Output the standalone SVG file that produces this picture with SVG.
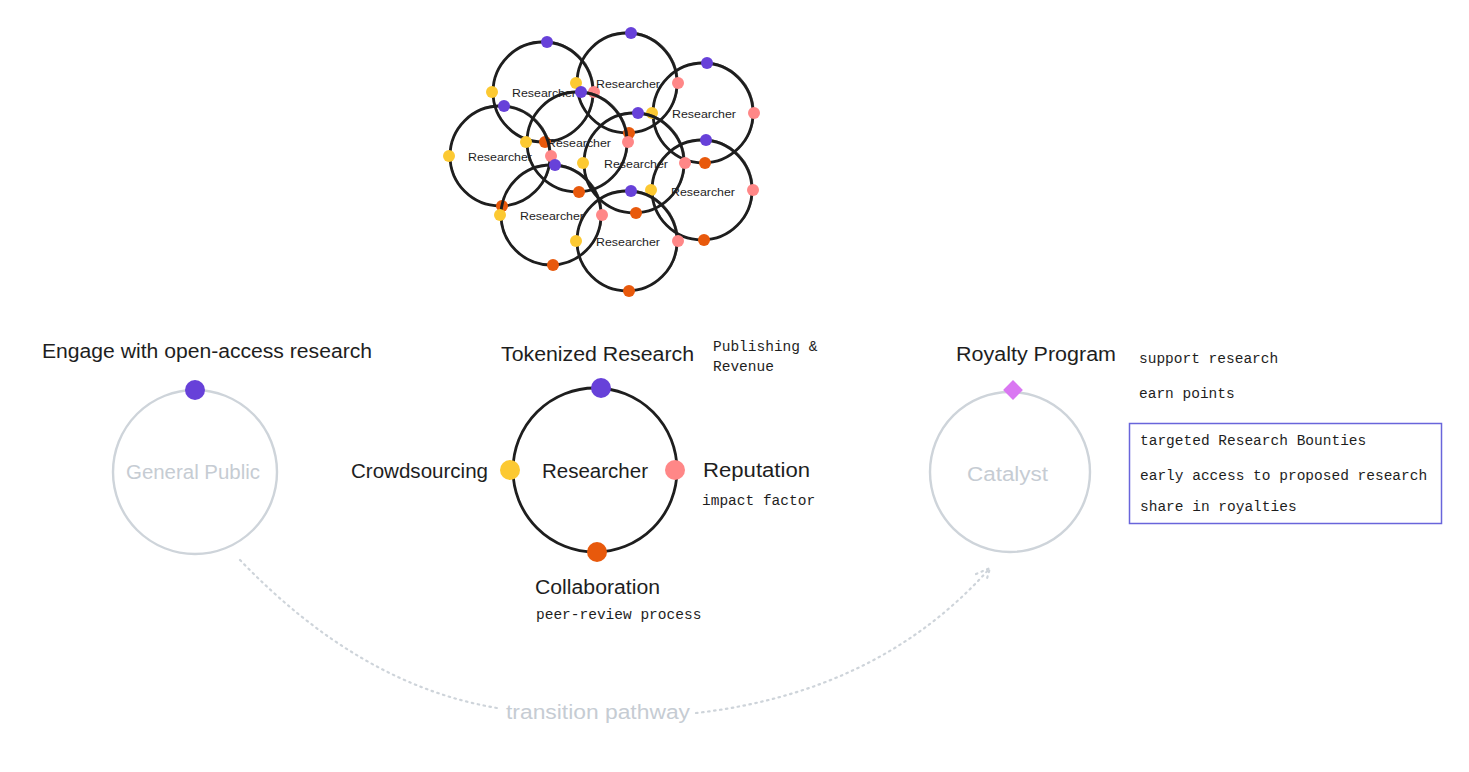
<svg xmlns="http://www.w3.org/2000/svg" width="1469" height="772" viewBox="0 0 1469 772">
<defs>
<style>
.ring{fill:none;stroke:#1e1e1e;stroke-width:2.8}
.ring2{fill:none;stroke:#1e1e1e;stroke-width:1;opacity:0.6}
.gring{fill:none;stroke:#ced4da;stroke-width:2.4}
.pu{fill:#6741d9}
.ye{fill:#fcc932}
.pk{fill:#ff8787}
.or{fill:#e8590c}
.hand{font-family:"Liberation Sans","DejaVu Sans",sans-serif;fill:#1e1e1e}
.mono{font-family:"Liberation Mono","DejaVu Sans Mono",monospace;font-size:14.5px;fill:#1e1e1e}
.small{font-size:11.5px}
.big{font-size:20px}
.gray{fill:#c6ccd3}
.path{fill:none;stroke:#ced4da;stroke-width:2.2;stroke-dasharray:1.5 4.5;stroke-linecap:round}
</style>
<g id="mini">
<circle class="ring" cx="0" cy="0" r="50"/>
<circle class="ring2" cx="0.8" cy="-0.6" r="50.5"/>
<circle class="pu" cx="4" cy="-50" r="6"/>
<circle class="ye" cx="-51" cy="0" r="6"/>
<circle class="pk" cx="51" cy="0" r="6"/>
<circle class="or" cx="2" cy="50" r="6"/>
</g>
</defs>
<rect width="1469" height="772" fill="#ffffff"/>

<g id="cluster">
<g id="r1"><use href="#mini" x="543" y="92"/><text class="hand small" x="544" y="97" text-anchor="middle" textLength="64" lengthAdjust="spacingAndGlyphs">Researcher</text></g>
<g id="r2"><use href="#mini" x="627" y="83"/><text class="hand small" x="628" y="88" text-anchor="middle" textLength="64" lengthAdjust="spacingAndGlyphs">Researcher</text></g>
<g id="r3"><use href="#mini" x="703" y="113"/><text class="hand small" x="704" y="118" text-anchor="middle" textLength="64" lengthAdjust="spacingAndGlyphs">Researcher</text></g>
<g id="r4"><use href="#mini" x="500" y="156"/><text class="hand small" x="500" y="161" text-anchor="middle" textLength="64" lengthAdjust="spacingAndGlyphs">Researcher</text></g>
<g id="r5"><use href="#mini" x="577" y="142"/><text class="hand small" x="579" y="147" text-anchor="middle" textLength="64" lengthAdjust="spacingAndGlyphs">Researcher</text></g>
<g id="r6"><use href="#mini" x="634" y="163"/><text class="hand small" x="636" y="168" text-anchor="middle" textLength="64" lengthAdjust="spacingAndGlyphs">Researcher</text></g>
<g id="r7"><use href="#mini" x="702" y="190"/><text class="hand small" x="703" y="196" text-anchor="middle" textLength="64" lengthAdjust="spacingAndGlyphs">Researcher</text></g>
<g id="r8"><use href="#mini" x="551" y="215"/><text class="hand small" x="552" y="220" text-anchor="middle" textLength="64" lengthAdjust="spacingAndGlyphs">Researcher</text></g>
<g id="r9"><use href="#mini" x="627" y="241"/><text class="hand small" x="628" y="246" text-anchor="middle" textLength="64" lengthAdjust="spacingAndGlyphs">Researcher</text></g>
</g>

<g id="connectors">
<path class="path" d="M 240 560 Q 360 685 497 708"/>
<path class="path" d="M 696 713 Q 880 692 990 568"/>
<path class="path" d="M 976 574 L 990 568 L 986 582"/>
</g>
<text class="hand big gray" x="506" y="719" textLength="184" lengthAdjust="spacingAndGlyphs">transition pathway</text>

<g id="general-public">
<circle class="gring" cx="195" cy="472" r="82"/>
<circle class="pu" cx="195" cy="390" r="10"/>
<text class="hand big gray" x="126" y="479" textLength="134" lengthAdjust="spacingAndGlyphs">General Public</text>
<text class="hand big" x="42" y="358" textLength="330" lengthAdjust="spacingAndGlyphs">Engage with open-access research</text>
</g>

<g id="researcher">
<circle class="ring" cx="595" cy="470" r="82"/>
<circle class="pu" cx="601" cy="388" r="10"/>
<circle class="ye" cx="510" cy="470" r="10"/>
<circle class="pk" cx="675" cy="470" r="10"/>
<circle class="or" cx="597" cy="552" r="10"/>
<text class="hand big" x="542" y="478" textLength="106" lengthAdjust="spacingAndGlyphs">Researcher</text>
<text class="hand big" x="501" y="361" textLength="193" lengthAdjust="spacingAndGlyphs">Tokenized Research</text>
<text class="mono" x="713" y="351">Publishing &amp;</text>
<text class="mono" x="713" y="371">Revenue</text>
<text class="hand big" x="351" y="478" textLength="137" lengthAdjust="spacingAndGlyphs">Crowdsourcing</text>
<text class="hand big" x="703" y="477" textLength="107" lengthAdjust="spacingAndGlyphs">Reputation</text>
<text class="mono" x="702" y="505">impact factor</text>
<text class="hand big" x="535" y="594" textLength="125" lengthAdjust="spacingAndGlyphs">Collaboration</text>
<text class="mono" x="536" y="619">peer-review process</text>
</g>

<g id="catalyst">
<circle class="gring" cx="1010" cy="472" r="80"/>
<rect x="1006" y="383" width="14" height="14" fill="#da77f2" transform="rotate(45 1013 390)"/>
<text class="hand big gray" x="967" y="481" textLength="81" lengthAdjust="spacingAndGlyphs">Catalyst</text>
<text class="hand big" x="956" y="361" textLength="160" lengthAdjust="spacingAndGlyphs">Royalty Program</text>
<text class="mono" x="1139" y="363">support research</text>
<text class="mono" x="1139" y="398">earn points</text>
</g>

<g id="bounties">
<rect x="1129.5" y="423.5" width="312" height="100" fill="none" stroke="#6965db" stroke-width="1.5"/>
<text class="mono" x="1140" y="445">targeted Research Bounties</text>
<text class="mono" x="1140" y="480">early access to proposed research</text>
<text class="mono" x="1140" y="511">share in royalties</text>
</g>
</svg>
